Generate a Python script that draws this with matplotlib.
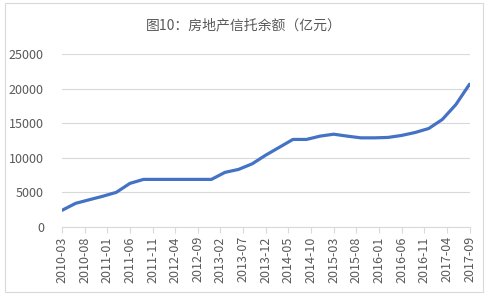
import matplotlib
matplotlib.use("Agg")
import matplotlib.pyplot as plt
from matplotlib.patches import Rectangle

plt.rcParams['font.family'] = ['Noto Sans CJK SC', 'DejaVu Sans']

# Quarterly data (month offset from 2010-03)
quarters = ["2010-03", "2010-06", "2010-09", "2010-12",
            "2011-03", "2011-06", "2011-09", "2011-12",
            "2012-03", "2012-06", "2012-09", "2012-12",
            "2013-03", "2013-06", "2013-09", "2013-12",
            "2014-03", "2014-06", "2014-09", "2014-12",
            "2015-03", "2015-06", "2015-09", "2015-12",
            "2016-03", "2016-06", "2016-09", "2016-12",
            "2017-03", "2017-06", "2017-09"]
balance = [2350, 3360, 3880, 4390,
           4960, 6260, 6840, 6840,
           6840, 6840, 6840, 6840,
           7860, 8290, 9100, 10360,
           11500, 12640, 12640, 13120,
           13400, 13120, 12870, 12870,
           12930, 13220, 13650, 14230,
           15540, 17710, 20650]

tick_labels = ["2010-03", "2010-08", "2011-01", "2011-06", "2011-11",
               "2012-04", "2012-09", "2013-02", "2013-07", "2013-12",
               "2014-05", "2014-10", "2015-03", "2015-08", "2016-01",
               "2016-06", "2016-11", "2017-04", "2017-09"]
y_ticks = [0, 5000, 10000, 15000, 20000, 25000]
title = "图10：房地产信托余额（亿元）"


def month_index(s):
    y, m = s.split("-")
    return (int(y) - 2010) * 12 + int(m) - 3


xs = [month_index(q) for q in quarters]
tx = [month_index(t) for t in tick_labels]

W, H = 488, 297
fig = plt.figure(figsize=(W / 100, H / 100), dpi=100)
fig.patch.set_facecolor("white")
fig.patches.append(Rectangle((5 / W, 5 / H), 478 / W, 289 / H,
                             transform=fig.transFigure, fill=False,
                             edgecolor="#d9d9d9", linewidth=0.8))

ax = fig.add_axes([62 / W, 70.5 / H, (469.5 - 62) / W, (242.7 - 70.5) / H])
ax.plot(xs, balance, color="#4472C4", linewidth=2.3, solid_capstyle="round",
        solid_joinstyle="round", zorder=3)

ax.set_xlim(0, 90)
ax.set_ylim(0, 25000)
ax.set_yticks(y_ticks)
ax.set_yticklabels([str(v) for v in y_ticks])
ax.set_xticks(tx)
ax.set_xticklabels(tick_labels, rotation=90)

ax.grid(axis="y", color="#d9d9d9", linewidth=0.8)
ax.set_axisbelow(True)
for s in ["top", "right", "left"]:
    ax.spines[s].set_visible(False)
ax.spines["bottom"].set_color("#d9d9d9")
ax.spines["bottom"].set_linewidth(0.8)
ax.tick_params(axis="y", length=0, pad=13, labelsize=9, labelcolor="#595959")
ax.tick_params(axis="x", length=4, width=0.8, color="#d9d9d9", pad=3,
               labelsize=9, labelcolor="#595959")

fig.text(244 / W, 1 - 25 / H, title, ha="center", va="center",
         fontsize=10, color="#595959")

fig.savefig("out.png", dpi=100)
